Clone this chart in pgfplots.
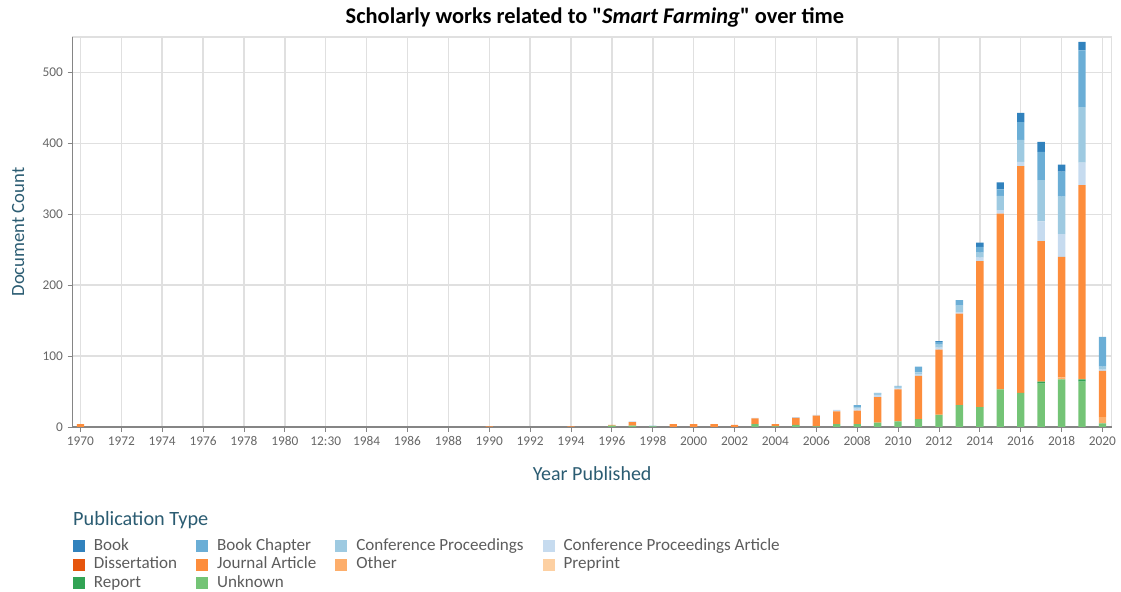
\documentclass[border=0pt]{standalone}
\usepackage{pgfplots}
\pgfplotsset{compat=1.18}
\usepackage{pgfplotstable}
\usepackage{fontspec}
\setmainfont{Carlito}
\newfontfamily\titlefont{Carlito}
\definecolor{cBook}{HTML}{3182BD}
\definecolor{cBC}{HTML}{6BAED6}
\definecolor{cCP}{HTML}{9ECAE1}
\definecolor{cCPA}{HTML}{C6DBEF}
\definecolor{cDis}{HTML}{E6550D}
\definecolor{cJA}{HTML}{FD8D3C}
\definecolor{cOth}{HTML}{FDAE6B}
\definecolor{cPre}{HTML}{FDD0A2}
\definecolor{cRep}{HTML}{31A354}
\definecolor{cUnk}{HTML}{74C476}
\definecolor{labteal}{HTML}{2B5C72}
\definecolor{tickgray}{HTML}{666666}
\definecolor{gridgray}{HTML}{E0E0E0}
\pgfplotstableread{
year U  R P O D J   CPA CP BC B
1970 0  0 0 0 0 4   0   0  0  0
1990 0  0 0 0 0 1   0   0  0  0
1994 0  0 0 0 0 1   0   0  0  0
1996 2  0 0 0 0 1   0   0  0  0
1997 2  0 0 0 0 5   1   0  0  0
1998 1  0 0 0 0 0   0   1  0  0
1999 0  0 0 0 0 4   0   0  0  0
2000 0  0 0 0 0 4   0   0  0  0
2001 0  0 0 0 0 4   0   0  0  0
2002 0  0 0 0 0 3   0   0  0  0
2003 4  0 0 0 0 8   1   0  0  0
2004 1  0 0 0 0 3   0   0  0  0
2005 3  0 0 0 0 10  1   0  0  0
2006 1  0 0 0 0 15  1   0  0  0
2007 4  0 0 0 0 18  2   0  0  0
2008 4  0 0 0 0 19  3   2  3  0
2009 6  0 0 0 0 36  3   2  1  0
2010 8  0 0 0 0 45  2   2  1  0
2011 11 0 0 0 0 61  2   3  8  0
2012 17 0 0 1 0 91  3   4  4  1
2013 31 0 0 0 0 129 2   9  8  0
2014 28 0 0 0 0 206 5   7  8  6
2015 53 0 0 0 0 248 5   20 9  10
2016 48 0 0 0 0 320 6   31 25 13
2017 61 3 0 0 0 198 28  58 40 14
2018 67 0 0 3 0 170 32  53 35 10
2019 64 3 0 1 0 273 32  78 80 12
2020 5  0 0 9 0 65  2   4  42 0
}\data
\begin{document}
\begin{tikzpicture}
\useasboundingbox (0pt,0pt) rectangle (840.75pt,444pt);
\begin{axis}[
  at={(54.5pt,123.75pt)}, anchor=south west,
  scale only axis, width=779.25pt, height=292.5pt,
  clip=false,
  ybar stacked, bar width=0.36,
  xmin=1969.62, xmax=2020.45, ymin=0, ymax=550,
  xtick={1970,1972,...,2020},
  xticklabels={1970,1972,1974,1976,1978,1980,12:30,1984,1986,1988,1990,1992,1994,1996,1998,2000,2002,2004,2006,2008,2010,2012,2014,2016,2018,2020},
  ytick={0,100,...,500},
  grid=major, grid style={gridgray, line width=1.1pt},
  axis line style={gridgray, line width=1.1pt},
  tick align=outside, xtick pos=bottom, ytick pos=left,
  major tick length=3.75pt,
  tick style={tickgray!80, line width=0.6pt},
  tick label style={font=\fontsize{10}{12}\selectfont, text=tickgray},
  /pgf/number format/assume math mode=true,
  /pgf/number format/1000 sep={},
  title={Scholarly works related to "\textit{Smart Farming}" over time},
  title style={at={(axis description cs:0.5027,1.0307)}, anchor=center, font=\titlefont\bfseries\fontsize{16.8}{20}\selectfont},
  xlabel={Year Published},
  xlabel style={at={(axis description cs:0.5,-0.1205)}, anchor=center, font=\fontsize{15}{18}\selectfont, text=labteal},
  ylabel={Document Count},
  ylabel style={at={(axis description cs:-0.0526,0.5)}, anchor=center, font=\fontsize{14}{17}\selectfont, text=labteal},
  legend image code/.code={\fill[#1] (0pt,-4.5pt) rectangle (9pt,4.5pt);},
  legend columns=4,
  legend cell align=left,
  legend style={at={(axis description cs:0.0,-0.285)}, anchor=north west, draw=none, fill=none,
    inner sep=0pt, row sep=1.9pt,
    font=\fontsize{12.8}{14}\selectfont, text=tickgray!90!black,
    nodes={inner sep=0pt, text height=9pt, text depth=3pt},
    /tikz/every odd column/.append style={column sep=6.75pt},
    /tikz/every even column/.append style={column sep=14.25pt}},
]
\addplot[fill=cUnk, draw=none, forget plot] table[x=year,y=U]{\data};
\addplot[fill=cRep, draw=none, forget plot] table[x=year,y=R]{\data};
\addplot[fill=cPre, draw=none, forget plot] table[x=year,y=P]{\data};
\addplot[fill=cOth, draw=none, forget plot] table[x=year,y=O]{\data};
\addplot[fill=cDis, draw=none, forget plot] table[x=year,y=D]{\data};
\addplot[fill=cJA, draw=none, forget plot] table[x=year,y=J]{\data};
\addplot[fill=cCPA, draw=none, forget plot] table[x=year,y=CPA]{\data};
\addplot[fill=cCP, draw=none, forget plot] table[x=year,y=CP]{\data};
\addplot[fill=cBC, draw=none, forget plot] table[x=year,y=BC]{\data};
\addplot[fill=cBook, draw=none, forget plot] table[x=year,y=B]{\data};
\addlegendimage{fill=cBook, draw=none}\addlegendentry{Book}
\addlegendimage{fill=cBC, draw=none}\addlegendentry{Book Chapter}
\addlegendimage{fill=cCP, draw=none}\addlegendentry{Conference Proceedings}
\addlegendimage{fill=cCPA, draw=none}\addlegendentry{Conference Proceedings Article}
\addlegendimage{fill=cDis, draw=none}\addlegendentry{Dissertation}
\addlegendimage{fill=cJA, draw=none}\addlegendentry{Journal Article}
\addlegendimage{fill=cOth, draw=none}\addlegendentry{Other}
\addlegendimage{fill=cPre, draw=none}\addlegendentry{Preprint}
\addlegendimage{fill=cRep, draw=none}\addlegendentry{Report}
\addlegendimage{fill=cUnk, draw=none}\addlegendentry{Unknown}
\draw[tickgray!80, line width=0.9pt] (rel axis cs:0,1) -- (rel axis cs:0,0) -- (rel axis cs:1,0);
\node[anchor=west, inner sep=0pt, text=labteal, font=\fontsize{15.2}{18}\selectfont] at (axis description cs:0.0003,-0.2385) {Publication Type};
\end{axis}
\end{tikzpicture}
\end{document}
